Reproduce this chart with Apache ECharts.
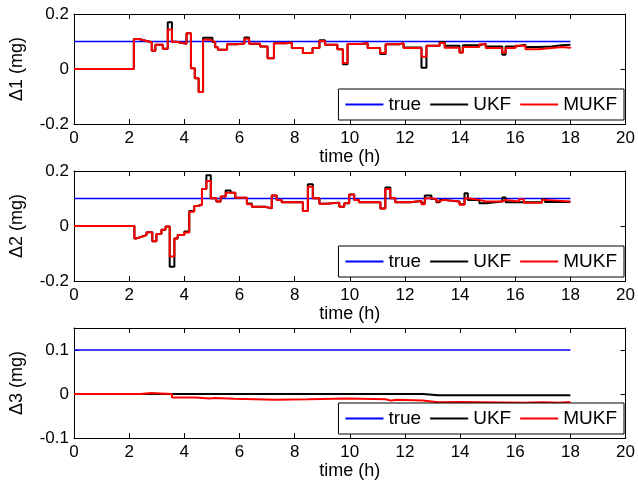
<!DOCTYPE html>
<html>
<head>
<meta charset="utf-8">
<script src="https://cdn.jsdelivr.net/npm/echarts@6/dist/echarts.min.js"></script>
<style>
  html, body { margin: 0; padding: 0; background: #fff; }
  #chart { width: 638px; height: 487px; }
</style>
</head>
<body>
<div id="chart"></div>
<script>
// Bias estimates Δ1..Δ3 (mg) over time (h): true value, UKF and MUKF (piecewise constant)
const seriesNames = ['true', 'UKF', 'MUKF'];
const xTicks = [0, 2, 4, 6, 8, 10, 12, 14, 16, 18, 20];
const trueTime = [0, 18];
const trueValue = [0.1, 0.1];

// Δ1
const time1 = [0, 2.17, 2.35, 2.6, 2.82, 2.95, 3.22, 3.40, 3.55, 3.7, 4.08, 4.24, 4.38, 4.52, 4.68, 4.92,
  5.02, 5.12, 5.22, 5.55, 5.9, 6.18, 6.35, 6.75, 7.02, 7.25, 7.7, 7.9, 8.3, 8.65, 8.9, 9.1, 9.55, 9.75,
  9.92, 10.4, 10.65, 11.1, 11.3, 11.8, 11.95, 12.6, 12.78, 13.26, 13.44, 13.98, 14.1, 14.7, 14.93,
  15.53, 15.65, 16.01, 16.37, 16.84, 17.32, 17.68, 18];
const ukf1 = [0, 0.109, 0.103, 0.097, 0.066, 0.088, 0.074, 0.170, 0.099, 0.092, 0.130, 0.003, -0.034, -0.084, 0.114, 0.114,
  0.098, 0.079, 0.070, 0.090, 0.093, 0.115, 0.092, 0.082, 0.039, 0.094, 0.096, 0.076, 0.058, 0.076, 0.105, 0.088, 0.072, 0.017,
  0.091, 0.094, 0.076, 0.055, 0.090, 0.094, 0.078, 0.005, 0.085, 0.098, 0.085, 0.060, 0.086, 0.092, 0.082,
  0.052, 0.082, 0.088, 0.080, 0.082, 0.086, 0.088, 0.088];
const mukf1 = [0, 0.109, 0.103, 0.097, 0.066, 0.088, 0.074, 0.144, 0.099, 0.092, 0.130, 0.003, -0.034, -0.084, 0.106, 0.104,
  0.098, 0.079, 0.070, 0.090, 0.093, 0.110, 0.092, 0.082, 0.039, 0.094, 0.096, 0.076, 0.058, 0.076, 0.102, 0.088, 0.072, 0.022,
  0.091, 0.094, 0.076, 0.058, 0.090, 0.094, 0.076, 0.045, 0.085, 0.095, 0.077, 0.060, 0.080, 0.090, 0.076,
  0.060, 0.076, 0.085, 0.072, 0.076, 0.080, 0.077, 0.080];

// Δ2
const time2 = [0, 2.19, 2.27, 2.45, 2.63, 2.84, 2.99, 3.17, 3.32, 3.47, 3.64, 3.76, 4.0, 4.18, 4.36, 4.48,
  4.64, 4.80, 4.96, 5.16, 5.32, 5.50, 5.68, 5.85, 6.27, 6.45, 6.93, 7.17, 7.35, 7.53, 8.30, 8.48, 8.66,
  8.90, 9.14, 9.62, 9.80, 9.98, 10.16, 10.33, 11.11, 11.29, 11.47, 11.65, 12.19, 12.60, 12.72, 12.96,
  13.14, 13.26, 13.38, 13.98, 14.16, 14.28, 14.70, 14.93, 15.53, 15.65, 16.13, 16.31, 16.97, 17.08, 18];
const ukf2 = [0, -0.045, -0.039, -0.033, -0.023, -0.055, -0.029, -0.014, -0.002, -0.148, -0.045, -0.033, -0.020, 0.055, 0.073, 0.077,
  0.135, 0.185, 0.101, 0.089, 0.107, 0.129, 0.121, 0.103, 0.082, 0.070, 0.064, 0.111, 0.095, 0.086, 0.055, 0.152, 0.101,
  0.081, 0.085, 0.070, 0.083, 0.115, 0.095, 0.086, 0.064, 0.140, 0.101, 0.086, 0.091, 0.083, 0.111, 0.098,
  0.086, 0.095, 0.089, 0.079, 0.119, 0.095, 0.083, 0.089, 0.104, 0.086, 0.086, 0.086, 0.098, 0.087, 0.087];
const mukf2 = [0, -0.045, -0.039, -0.033, -0.023, -0.055, -0.029, -0.014, -0.002, -0.111, -0.045, -0.033, -0.024, 0.052, 0.073, 0.077,
  0.135, 0.164, 0.101, 0.089, 0.107, 0.121, 0.121, 0.103, 0.079, 0.070, 0.064, 0.111, 0.095, 0.086, 0.055, 0.143, 0.101,
  0.081, 0.085, 0.070, 0.083, 0.115, 0.095, 0.086, 0.064, 0.135, 0.101, 0.086, 0.091, 0.079, 0.101, 0.098,
  0.089, 0.095, 0.089, 0.077, 0.101, 0.095, 0.089, 0.089, 0.095, 0.089, 0.097, 0.085, 0.095, 0.089, 0.089];

// Δ3
const time3 = [0, 2.4, 2.8, 3.55, 4.4, 4.9, 5.1, 5.8, 7.3, 8.5, 9.9, 11.3, 11.5, 11.7, 12.65, 13.2, 14.0, 16.3, 17.0, 17.6, 18];
const ukf3 = [0, 0, 0, 0, 0, 0, 0, 0, 0, 0, 0, 0, 0, 0, -0.003, -0.003, -0.003, -0.003, -0.003, -0.003, -0.003];
const mukf3 = [0, 0.002, 0, -0.008, -0.010, -0.009, -0.011, -0.013, -0.012, -0.010, -0.012, -0.015, -0.013, -0.015,
  -0.019, -0.018, -0.020, -0.019, -0.020, -0.018, -0.018];

const yLabels = ['\u03941 (mg)', '\u03942 (mg)', '\u03943 (mg)'];
const yTicks = [[-0.2, 0, 0.2], [-0.2, 0, 0.2], [-0.1, 0, 0.1]];
const yRanges = [[-0.2, 0.2], [-0.2, 0.2], [-0.1, 0.15]];

const FONT = 'Liberation Sans';
const zip = (t, v) => t.map((x, i) => [x, v[i]]);
const panels = [
  { time: time1, ukf: ukf1, mukf: mukf1 },
  { time: time2, ukf: ukf2, mukf: mukf2 },
  { time: time3, ukf: ukf3, mukf: mukf3 }
];
const gridTops = [14, 171, 328];
const gridH = 110;

const grid = [], xAxis = [], yAxis = [], series = [], legend = [];
const lineStyleAxis = { color: '#000', width: 1 };

panels.forEach((p, k) => {
  grid.push({ left: 70, top: gridTops[k], width: 558, height: gridH });
  // bottom x axis with labels
  xAxis.push({
    type: 'value', gridIndex: k, min: 0, max: 20, interval: 2, position: 'bottom',
    name: 'time (h)', nameLocation: 'middle', nameGap: 24,
    nameTextStyle: { fontFamily: FONT, fontSize: 18, color: '#000' },
    axisLine: { show: true, onZero: false, lineStyle: lineStyleAxis },
    axisTick: { show: true, inside: true, length: 5, lineStyle: lineStyleAxis, customValues: xTicks },
    axisLabel: { show: true, customValues: xTicks, fontFamily: FONT, fontSize: 17, color: '#000', margin: 6 },
    splitLine: { show: false }
  });
  // top x axis, ticks only
  xAxis.push({
    type: 'value', gridIndex: k, min: 0, max: 20, interval: 2, position: 'top',
    axisLine: { show: true, onZero: false, lineStyle: lineStyleAxis },
    axisTick: { show: true, inside: true, length: 5, lineStyle: lineStyleAxis, customValues: xTicks },
    axisLabel: { show: false },
    splitLine: { show: false }
  });
  yAxis.push({
    type: 'value', gridIndex: k, min: yRanges[k][0], max: yRanges[k][1], position: 'left',
    name: yLabels[k], nameLocation: 'middle', nameGap: 48, nameRotate: 90,
    nameTextStyle: { fontFamily: FONT, fontSize: 18, color: '#000' },
    axisLine: { show: true, onZero: false, lineStyle: lineStyleAxis },
    axisTick: { show: true, inside: true, length: 5, lineStyle: lineStyleAxis, customValues: yTicks[k] },
    axisLabel: { show: true, customValues: yTicks[k], fontFamily: FONT, fontSize: 17, color: '#000', margin: 5,
      formatter: v => String(Math.round(v * 10) / 10) },
    splitLine: { show: false }
  });
  yAxis.push({
    type: 'value', gridIndex: k, min: yRanges[k][0], max: yRanges[k][1], position: 'right',
    axisLine: { show: true, onZero: false, lineStyle: lineStyleAxis },
    axisTick: { show: true, inside: true, length: 5, lineStyle: lineStyleAxis, customValues: yTicks[k] },
    axisLabel: { show: false },
    splitLine: { show: false }
  });
  const xi = 2 * k, yi = 2 * k;
  const common = { type: 'line', xAxisIndex: xi, yAxisIndex: yi, showSymbol: false, symbol: 'none',
    animation: false, step: 'end', silent: true };
  series.push(Object.assign({}, common, { name: 'true', data: zip(trueTime, trueValue), step: false,
    color: '#0000ff', lineStyle: { color: '#0000ff', width: 1.6 } }));
  series.push(Object.assign({}, common, { name: 'UKF', data: zip(p.time, p.ukf),
    color: '#000000', lineStyle: { color: '#000000', width: 2 } }));
  series.push(Object.assign({}, common, { name: 'MUKF', data: zip(p.time, p.mukf),
    color: '#ff0000', lineStyle: { color: '#ff0000', width: 2 } }));
  legend.push({
    data: seriesNames, right: 14, top: gridTops[k] + 75, orient: 'horizontal',
    icon: 'rect', itemWidth: 38, itemHeight: 2, itemGap: 9,
    backgroundColor: '#fff', borderColor: '#000', borderWidth: 1, borderRadius: 0,
    padding: [6, 7, 6, 7], selectedMode: false,
    textStyle: { fontFamily: FONT, fontSize: 19, color: '#000' }
  });
});

const chart = echarts.init(document.getElementById('chart'), null, { renderer: 'canvas' });
chart.setOption({ animation: false, backgroundColor: '#fff', grid, xAxis, yAxis, series, legend });
</script>
</body>
</html>
